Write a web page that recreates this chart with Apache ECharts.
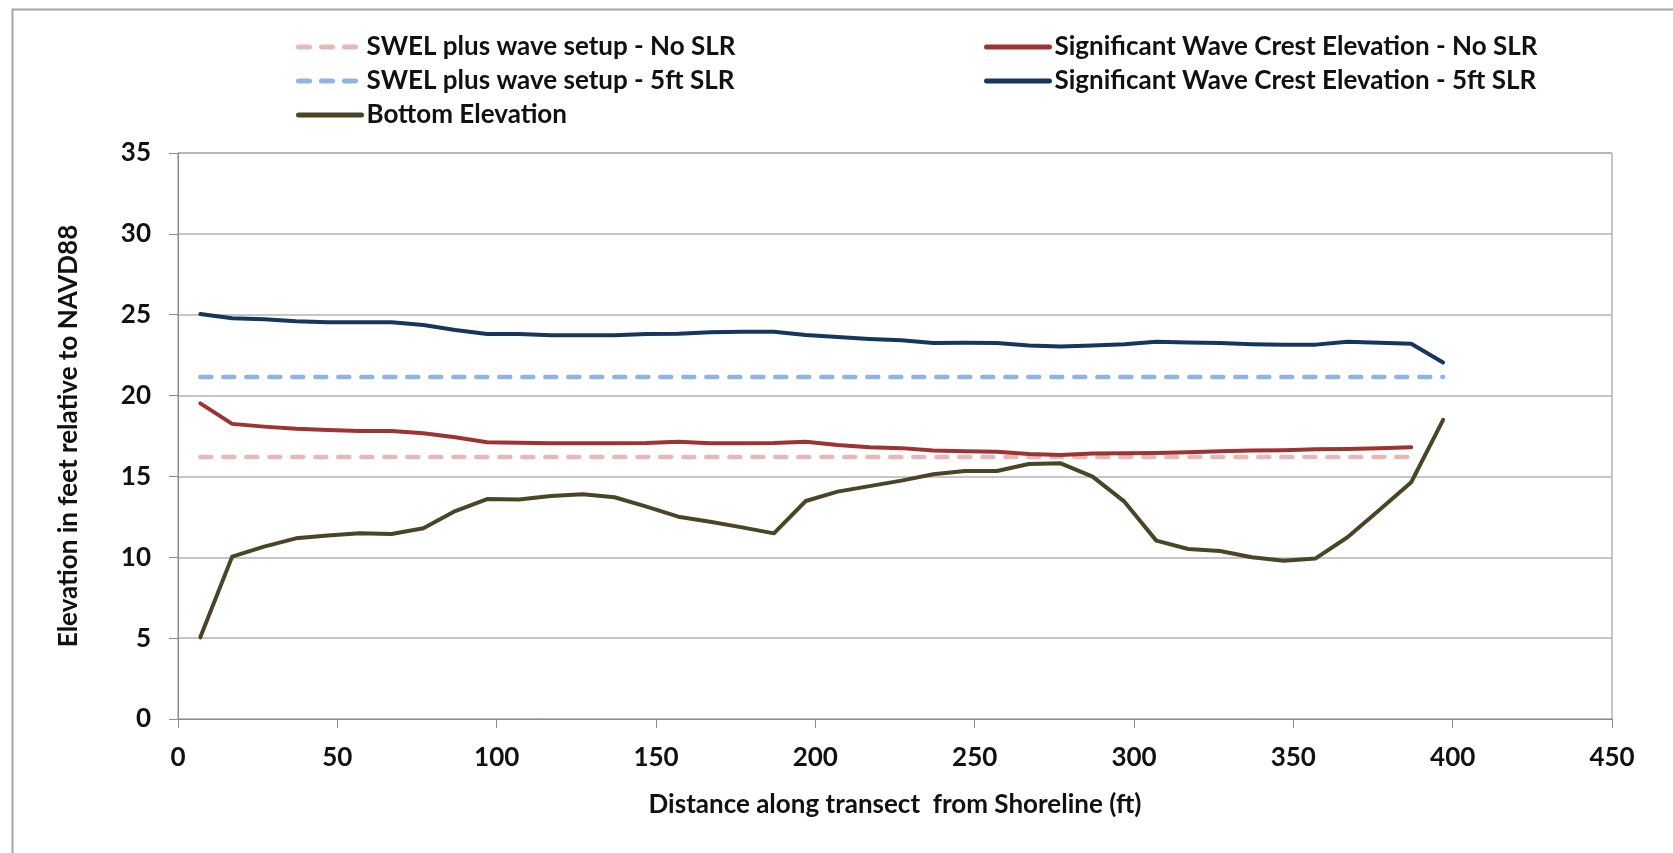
<!DOCTYPE html>
<html>
<head>
<meta charset="utf-8">
<title>Elevation along transect</title>
<script src="https://cdn.jsdelivr.net/npm/echarts@6/dist/echarts.min.js"></script>
<style>
  html, body { margin: 0; padding: 0; background: #fff; }
  #main { width: 1673px; height: 853px; }
</style>
</head>
<body>
<div id="main"></div>
<script>
'use strict';

// distance from shoreline (ft)
var distance = [7, 17, 27, 37, 47, 57, 67, 77, 87, 97,
  107, 117, 127, 137, 147, 157, 167, 177, 187, 197,
  207, 217, 227, 237, 247, 257, 267, 277, 287, 297,
  307, 317, 327, 337, 347, 357, 367, 377, 387, 397];

// SWEL plus wave setup (flat levels)
var swelNoSlr = [16.2, 16.2, 16.2, 16.2, 16.2, 16.2, 16.2, 16.2, 16.2, 16.2,
  16.2, 16.2, 16.2, 16.2, 16.2, 16.2, 16.2, 16.2, 16.2, 16.2,
  16.2, 16.2, 16.2, 16.2, 16.2, 16.2, 16.2, 16.2, 16.2, 16.2,
  16.2, 16.2, 16.2, 16.2, 16.2, 16.2, 16.2, 16.2, 16.2];
var swel5ft = [21.15, 21.15, 21.15, 21.15, 21.15, 21.15, 21.15, 21.15, 21.15, 21.15,
  21.15, 21.15, 21.15, 21.15, 21.15, 21.15, 21.15, 21.15, 21.15, 21.15,
  21.15, 21.15, 21.15, 21.15, 21.15, 21.15, 21.15, 21.15, 21.15, 21.15,
  21.15, 21.15, 21.15, 21.15, 21.15, 21.15, 21.15, 21.15, 21.15, 21.15];

// significant wave crest elevation
var crestNoSlr = [19.52, 18.25, 18.08, 17.95, 17.87, 17.81, 17.81, 17.67, 17.42, 17.11,
  17.09, 17.05, 17.05, 17.05, 17.07, 17.15, 17.05, 17.05, 17.07, 17.15,
  16.95, 16.8, 16.75, 16.6, 16.55, 16.53, 16.38, 16.33, 16.42, 16.43,
  16.45, 16.5, 16.55, 16.6, 16.62, 16.68, 16.7, 16.75, 16.8];
var crest5ft = [25.05, 24.78, 24.72, 24.6, 24.53, 24.53, 24.53, 24.37, 24.06, 23.81,
  23.8, 23.73, 23.73, 23.73, 23.8, 23.83, 23.92, 23.95, 23.95, 23.75,
  23.62, 23.5, 23.42, 23.25, 23.27, 23.25, 23.1, 23.03, 23.1, 23.18,
  23.33, 23.28, 23.25, 23.18, 23.15, 23.15, 23.33, 23.27, 23.2, 22.04];

// ground profile
var bottomElev = [5.05, 10.04, 10.66, 11.17, 11.34, 11.48, 11.44, 11.79, 12.86, 13.6,
  13.58, 13.79, 13.9, 13.71, 13.13, 12.51, 12.2, 11.85, 11.48, 13.48,
  14.06, 14.4, 14.74, 15.13, 15.34, 15.34, 15.77, 15.81, 14.99, 13.44,
  11.03, 10.51, 10.39, 10.0, 9.79, 9.93, 11.24, 12.92, 14.64, 18.5];

var seriesNames = [
  'SWEL plus wave setup - No SLR',
  'Significant Wave Crest Elevation - No SLR',
  'SWEL plus wave setup - 5ft SLR',
  'Significant Wave Crest Elevation - 5ft SLR',
  'Bottom Elevation'
];

var FONT = 'Lato';
var TEXT_COLOR = '#111';
var AXIS_GRAY = '#8c8c8c';

function pairs(values) {
  var out = [];
  for (var i = 0; i < values.length; i++) {
    out.push([distance[i], values[i]]);
  }
  return out;
}

function lineSeries(name, values, color, width, dashed) {
  return {
    name: name,
    type: 'line',
    data: pairs(values),
    showSymbol: false,
    symbol: 'none',
    smooth: false,
    lineStyle: {
      color: color,
      width: width,
      type: dashed ? [11, 12] : 'solid',
      cap: 'round',
      join: 'round'
    },
    itemStyle: { color: color },
    emphasis: { disabled: true }
  };
}

var legendText = {
  fontFamily: FONT,
  fontWeight: 'bold',
  fontSize: 26,
  color: TEXT_COLOR,
  lineHeight: 30
};

// two legend columns, like the original layout
function legendColumn(left, names) {
  return {
    orient: 'vertical',
    left: left,
    top: 27,
    itemWidth: 63,
    itemHeight: 14,
    itemGap: 4,
    selectedMode: false,
    itemStyle: { opacity: 0 },      // hide the marker dot, keep the line
    lineStyle: { width: 5 },
    textStyle: legendText,
    data: names
  };
}

var chart = echarts.init(document.getElementById('main'));
chart.setOption({
  animation: false,
  backgroundColor: '#fff',
  graphic: [{
    // outer chart frame
    type: 'rect',
    left: 10,
    top: 7,
    shape: { width: 1700, height: 900 },
    style: { fill: 'none', stroke: '#a6a6a6', lineWidth: 2 },
    silent: true
  }],
  legend: [
    legendColumn(291, [seriesNames[0], seriesNames[2], seriesNames[4]]),
    legendColumn(979, [seriesNames[1], seriesNames[3]])
  ],
  grid: {
    left: 178,
    right: 61,
    top: 153,
    bottom: 134,
    show: true,
    borderColor: AXIS_GRAY,
    borderWidth: 1,
    containLabel: false
  },
  xAxis: {
    type: 'value',
    min: 0,
    max: 450,
    interval: 50,
    name: 'Distance along transect  from Shoreline (ft)',
    nameLocation: 'middle',
    nameGap: 73,
    nameTextStyle: { fontFamily: FONT, fontWeight: 'bold', fontSize: 26, color: TEXT_COLOR },
    axisLine: { show: true, lineStyle: { color: AXIS_GRAY, width: 1 } },
    axisTick: { show: true, inside: false, length: 9, lineStyle: { color: AXIS_GRAY } },
    axisLabel: { margin: 26, fontFamily: FONT, fontWeight: 'bold', fontSize: 26, color: TEXT_COLOR },
    splitLine: { show: false }
  },
  yAxis: {
    type: 'value',
    min: 0,
    max: 35,
    interval: 5,
    name: 'Elevation in feet relative to NAVD88',
    nameLocation: 'middle',
    nameGap: 96,
    nameRotate: 90,
    nameTextStyle: { fontFamily: FONT, fontWeight: 'bold', fontSize: 26, color: TEXT_COLOR },
    axisLine: { show: true, lineStyle: { color: AXIS_GRAY, width: 1 } },
    axisTick: { show: true, inside: false, length: 9, lineStyle: { color: AXIS_GRAY } },
    axisLabel: { margin: 27, fontFamily: FONT, fontWeight: 'bold', fontSize: 26, color: TEXT_COLOR },
    splitLine: { show: true, lineStyle: { color: '#b3b3b3', width: 1.5 } }
  },
  series: [
    lineSeries(seriesNames[0], swelNoSlr, '#e6b9b8', 4.5, true),
    lineSeries(seriesNames[1], crestNoSlr, '#9b3432', 4, false),
    lineSeries(seriesNames[2], swel5ft, '#8eb4e3', 4.5, true),
    lineSeries(seriesNames[3], crest5ft, '#17365d', 4, false),
    lineSeries(seriesNames[4], bottomElev, '#4a4526', 4, false)
  ]
});
</script>
</body>
</html>
